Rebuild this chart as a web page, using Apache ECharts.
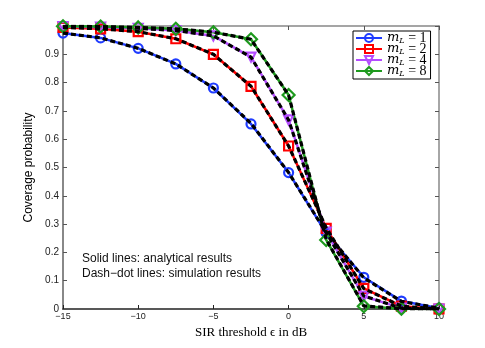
<!DOCTYPE html>
<html>
	<head>
		<meta charset="utf-8" />
		<title>Coverage probability</title>
		<script type="text/javascript" src="https://cdn.jsdelivr.net/npm/echarts@6/dist/echarts.min.js"></script>
		<style>
			html, body { margin: 0; padding: 0; background: #fff; }
			#chart { width: 485px; height: 348px; }
		</style>
	</head>
	<body>
		<div id="chart"></div>
		<script type="text/javascript">
			// SIR threshold in dB
			var sirDb = [-15, -12.5, -10, -7.5, -5, -2.5, 0, 2.5, 5, 7.5, 10];
			var xTicks = [-15, -10, -5, 0, 5, 10];
			var yTicks = [0, 0.1, 0.2, 0.3, 0.4, 0.5, 0.6, 0.7, 0.8, 0.9];

			// analytical results
			var anaM1 = [0.975, 0.958, 0.921, 0.866, 0.781, 0.654, 0.482, 0.268, 0.112, 0.028, 0.003];
			var anaM2 = [0.995, 0.99, 0.98, 0.955, 0.9, 0.787, 0.576, 0.285, 0.073, 0.01, 0.0];
			var anaM4 = [0.998, 0.996, 0.992, 0.984, 0.965, 0.89, 0.668, 0.272, 0.045, 0.003, 0.0];
			var anaM8 = [0.999, 0.998, 0.995, 0.99, 0.978, 0.953, 0.756, 0.244, 0.01, 0.001, 0.0];

			// simulation results
			var simM1 = [0.975, 0.958, 0.921, 0.866, 0.781, 0.656, 0.482, 0.27, 0.11, 0.027, 0.003];
			var simM2 = [0.995, 0.99, 0.98, 0.955, 0.9, 0.787, 0.576, 0.287, 0.072, 0.01, 0.0];
			var simM4 = [0.998, 0.996, 0.992, 0.984, 0.965, 0.89, 0.668, 0.27, 0.046, 0.003, 0.0];
			var simM8 = [0.999, 0.998, 0.995, 0.99, 0.978, 0.953, 0.756, 0.246, 0.011, 0.001, 0.0];

			var mValues = ['1', '2', '4', '8'];
			var colors = ['#1f3cff', '#ff0000', '#b44cff', '#1e9a1e'];
			var symbols = ['circle', 'rect', 'triangle', 'diamond'];

			function pairs(ys) {
				var out = [];
				for (var i = 0; i < sirDb.length; i++) out.push([sirDb[i], ys[i]]);
				return out;
			}

			var anaData = [anaM1, anaM2, anaM4, anaM8];
			var simData = [simM1, simM2, simM4, simM8];
			var series = [];

			for (var k = 0; k < 4; k++) {
				series.push({
					name: 'm' + mValues[k],
					type: 'line',
					data: pairs(anaData[k]),
					symbol: symbols[k],
					symbolRotate: k == 2 ? 180 : 0,
					symbolSize: k == 3 ? 12 : 9,
					z: 2,
					lineStyle: { color: colors[k], width: 2.5 },
					itemStyle: { color: 'rgba(255,255,255,0)', borderColor: colors[k], borderWidth: 2.2 },
					animation: false
				});
			}
			for (var k = 0; k < 4; k++) {
				series.push({
					name: 'sim' + mValues[k],
					type: 'line',
					data: pairs(simData[k]),
					showSymbol: false,
					symbol: 'none',
					z: 3,
					lineStyle: { color: '#000', width: 3.2, type: [5, 3] },
					animation: false
				});
			}

			var myChart = echarts.init(document.getElementById('chart'));
			var option = {
				animation: false,
				grid: { left: 63, right: 46, top: 26, bottom: 39 },
				legend: {
					data: ['m1', 'm2', 'm4', 'm8'],
					orient: 'vertical',
					left: 353,
					top: 31,
					itemWidth: 26,
					itemHeight: 10,
					itemGap: -3,
					padding: [0, 4, 1, 2],
					borderColor: '#000',
					borderWidth: 1,
					backgroundColor: '#fff',
					formatter: function (name) {
						return '{i|m}{s|L}{t| = ' + name.slice(1) + '}';
					},
					textStyle: {
						rich: {
							i: { fontFamily: 'DejaVu Serif', fontStyle: 'italic', fontSize: 13, color: '#000' },
							s: { fontFamily: 'DejaVu Serif', fontStyle: 'italic', fontSize: 8, color: '#000', verticalAlign: 'bottom' },
							t: { fontFamily: 'Liberation Serif', fontSize: 14, color: '#000' }
						}
					}
				},
				graphic: [{
					type: 'text',
					left: 82,
					top: 251,
					style: {
						text: 'Solid lines: analytical results\nDash\u2212dot lines: simulation results',
						font: '12px "Liberation Sans", Arial, sans-serif',
						fill: '#111',
						lineHeight: 15
					}
				}],
				xAxis: [{
					type: 'value',
					min: -15,
					max: 10,
					interval: 5,
					name: 'SIR threshold \u03f5 in dB',
					nameLocation: 'middle',
					nameGap: 16,
					nameTextStyle: { fontFamily: 'Liberation Serif', fontSize: 13, color: '#000' },
					axisLine: { onZero: false, lineStyle: { color: '#222', width: 1.5 } },
					axisTick: { inside: true, length: 4, lineStyle: { color: '#222' } },
					axisLabel: {
						fontSize: 9,
						color: '#222',
						margin: 3,
						fontFamily: 'Liberation Sans',
						formatter: function (v) { return String(v).replace('-', '\u2212'); }
					},
					splitLine: { show: false }
				}, {
					type: 'value',
					position: 'top',
					min: -15,
					max: 10,
					interval: 5,
					axisLine: { onZero: false, lineStyle: { color: '#888', width: 1.5 } },
					axisTick: { inside: true, length: 4, lineStyle: { color: '#555' } },
					axisLabel: { show: false },
					splitLine: { show: false }
				}],
				yAxis: [{
					type: 'value',
					min: 0,
					max: 1,
					interval: 0.1,
					name: 'Coverage probability',
					nameLocation: 'middle',
					nameGap: 26,
					nameTextStyle: { fontFamily: 'Liberation Sans', fontSize: 12, color: '#000' },
					axisLine: { onZero: false, lineStyle: { color: '#888', width: 2 } },
					axisTick: { inside: true, length: 4, lineStyle: { color: '#555' } },
					axisLabel: {
						fontSize: 10,
						color: '#222',
						margin: 4,
						fontFamily: 'Liberation Sans',
						formatter: function (v) {
							var r = Math.round(v * 10) / 10;
							if (yTicks.indexOf(r) < 0) return '';
							return r === 0 ? '0' : r.toFixed(1);
						}
					},
					splitLine: { show: false }
				}, {
					type: 'value',
					position: 'right',
					min: 0,
					max: 1,
					interval: 0.1,
					axisLine: { onZero: false, lineStyle: { color: '#888', width: 1.5 } },
					axisTick: { inside: true, length: 4, lineStyle: { color: '#555' } },
					axisLabel: { show: false },
					splitLine: { show: false }
				}],
				series: series
			};
			myChart.setOption(option);
		</script>
	</body>
</html>
